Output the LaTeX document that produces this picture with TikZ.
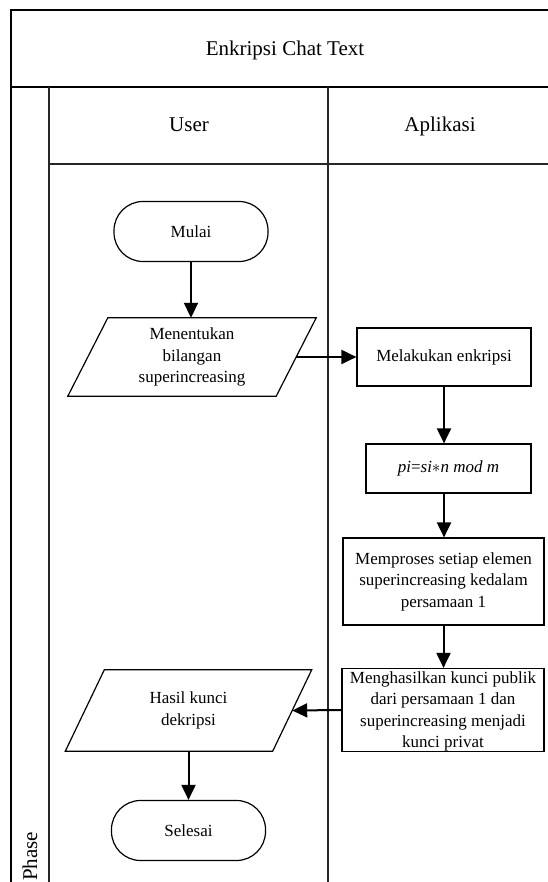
\documentclass[tikz,border=0pt]{standalone}
\usepackage{fontspec}
\setmainfont{Liberation Serif}
\usetikzlibrary{arrows.meta,calc}
\newcommand\flowtext{\fontsize{17}{21.5}\selectfont}
\newcommand\headtext{\fontsize{21}{25}\selectfont}
\begin{document}
\begin{tikzpicture}[x=1pt,y=-1pt,
  outerline/.style={line width=1.8pt, draw=black},
  laneline/.style={line width=1.4pt, draw=black!85},
  flow/.style={-{Triangle[length=15pt,width=14pt]}, line width=2pt},
  term/.style={draw, line width=1.2pt, rounded corners=29pt, minimum width=154pt,
    minimum height=60pt, inner sep=0pt, font=\flowtext},
  stepbox/.style={draw, line width=1.2pt, inner sep=0pt, align=center, font=\flowtext},
  iobox/.style={inner sep=0pt, align=center, font=\flowtext},
  iodraw/.style={line width=1.2pt},
  label/.style={inner sep=0pt, align=center, font=\flowtext},
  head/.style={inner sep=0pt, font=\headtext}]
\useasboundingbox (0,0) rectangle (547,882);

% swimlane frame
\draw[outerline] (11,882) -- (11,10) -- (560,10);
\draw[outerline] (11,87) -- (560,87);
\draw[laneline] (49,87) -- (49,882);
\draw[laneline] (328,87) -- (328,882);
\draw[laneline] (49,164) -- (560,164);

\node[head, anchor=base] (title) at (285,56) {Enkripsi Chat Text};
\node[head, anchor=base] (laneuser) at (189,132) {User};
\node[head, anchor=base] (laneapp) at (440,132) {Aplikasi};
\node[head, rotate=90, anchor=west] (phase) at (30,881) {Phase};

% user lane
\node[term] (start) at (191,231.5) {Mulai};
\node[iobox, minimum width=208pt, minimum height=78pt] (in1) at (192,357)
  {Menentukan\\bilangan\\superincreasing};
\draw[iodraw] ($(in1.north west)+(20,0)$) -- ($(in1.north east)+(20,0)$)
  -- ($(in1.south east)+(-20,0)$) -- ($(in1.south west)+(-20,0)$) -- cycle;

\node[iobox, minimum width=207pt, minimum height=81pt] (out1) at (188.5,710.5)
  {Hasil kunci\\dekripsi};
\draw[iodraw] ($(out1.north west)+(19.5,0)$) -- ($(out1.north east)+(19.5,0)$)
  -- ($(out1.south east)+(-19.5,0)$) -- ($(out1.south west)+(-19.5,0)$) -- cycle;

\node[term] (stop) at (188.5,830.5) {Selesai};

% application lane
\node[stepbox, minimum width=174pt, minimum height=58pt] (enc) at (444,357)
  {Melakukan enkripsi};
\node[stepbox, minimum width=165pt, minimum height=49pt] (pi) at (448.5,468.5)
  {\itshape pi{\upshape=}si$\ast$n mod m};
\node[stepbox, minimum width=201pt, minimum height=87pt] (proc) at (443.5,581.5)
  {Memproses setiap elemen\\superincreasing kedalam\\persamaan 1};
\node[draw, line width=1.2pt, minimum width=202pt, minimum height=83pt, inner sep=0pt]
  (gen) at (443,710) {};
\node[label] (genlabel) at (443,711.5)
  {Menghasilkan kunci publik\\dari persamaan 1 dan\\superincreasing menjadi\\kunci privat};

% connectors
\draw[flow] (start.south) -- (start.south |- in1.north);
\draw[flow] (in1.east) -- (enc.west);
\draw[flow] (enc.south) -- (enc.south |- pi.north);
\draw[flow] (enc.south |- pi.south) -- (enc.south |- proc.north);
\draw[flow] (proc.south) -- (proc.south |- gen.north);
\draw[flow] (gen.west) -- (out1.east);
\draw[flow] (out1.south) -- (stop.north);
\end{tikzpicture}
\end{document}
